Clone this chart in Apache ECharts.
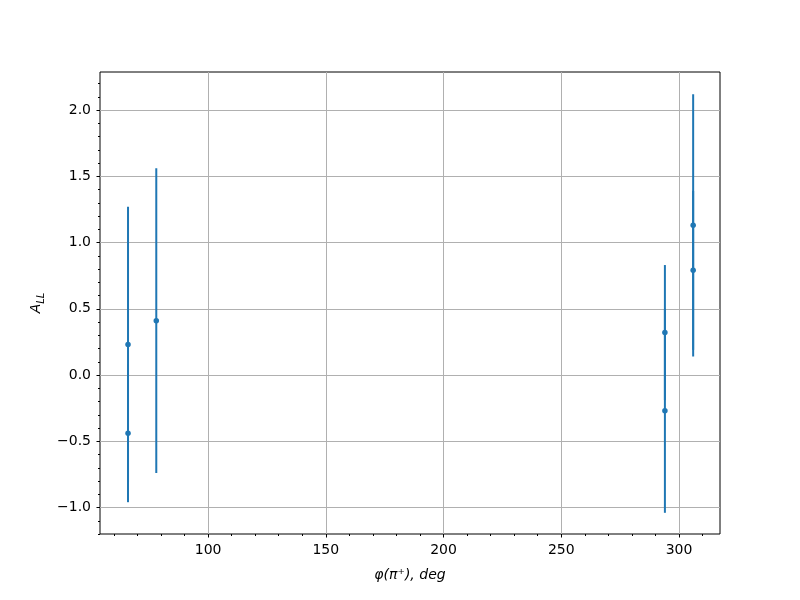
<!DOCTYPE html>
<html>
<head>
<meta charset="utf-8">
<script src="https://cdn.jsdelivr.net/npm/echarts@6/dist/echarts.min.js"></script>
<style>html,body{margin:0;padding:0;background:#fff}#c{width:800px;height:600px}</style>
</head>
<body>
<div id="c"></div>
<script>
const xValues = [66, 66, 78, 294, 294, 306, 306];
const yValues = [0.23, -0.44, 0.41, 0.32, -0.27, 1.13, 0.79];
const yErrors = [1.04, 0.52, 1.15, 0.51, 0.77, 0.99, 0.60];
const xMajorTicks = [100, 150, 200, 250, 300];
const xMinorTicks = [60, 70, 80, 90, 110, 120, 130, 140, 160, 170, 180, 190, 210, 220, 230, 240, 260, 270, 280, 290, 310];
const yMajorTicks = [-1.0, -0.5, 0.0, 0.5, 1.0, 1.5, 2.0];
const yMinorTicks = [-1.2, -1.1, -0.9, -0.8, -0.7, -0.6, -0.4, -0.3, -0.2, -0.1, 0.1, 0.2, 0.3, 0.4, 0.6, 0.7, 0.8, 0.9, 1.1, 1.2, 1.3, 1.4, 1.6, 1.7, 1.8, 1.9, 2.1, 2.2];
const xRange = [54.1, 317.4];
const yRange = [-1.2, 2.287];

const C = '#1f77b4';
const FONT = 'DejaVu Sans';
const fmtY = v => v.toFixed(1).replace('-', '\u2212');

const errData = xValues.map((x, i) => [x, yValues[i] - yErrors[i], yValues[i] + yErrors[i]]);
const ptData = xValues.map((x, i) => [x, yValues[i]]);

const chart = echarts.init(document.getElementById('c'), null, {renderer: 'canvas'});
chart.setOption({
  animation: false,
  backgroundColor: '#fff',
  textStyle: {fontFamily: FONT},
  grid: {left: 100, right: 80, top: 72, bottom: 66, show: true, borderColor: '#000', borderWidth: 1, backgroundColor: 'transparent'},
  xAxis: [{
    type: 'value', min: xRange[0], max: xRange[1], position: 'bottom',
    axisLine: {show: false, onZero: false},
    axisTick: {show: true, customValues: xMajorTicks, length: 3.5, lineStyle: {color: '#000', width: 1}},
    axisLabel: {customValues: xMajorTicks, color: '#000', fontSize: 14, fontFamily: FONT, margin: 9},
    splitLine: {show: true, lineStyle: {color: '#b0b0b0', width: 1}},
    name: '\u03c6(\u03c0\u207a), deg', nameLocation: 'middle', nameGap: 34,
    nameTextStyle: {color: '#000', fontSize: 14, fontStyle: 'italic', fontFamily: FONT}
  }, {
    type: 'value', min: xRange[0], max: xRange[1], position: 'bottom',
    axisLine: {show: false, onZero: false},
    axisTick: {show: true, customValues: xMinorTicks, length: 2, lineStyle: {color: '#000', width: 1}},
    axisLabel: {show: false},
    splitLine: {show: false}
  }],
  yAxis: [{
    type: 'value', min: yRange[0], max: yRange[1], position: 'left',
    axisLine: {show: false, onZero: false},
    axisTick: {show: true, customValues: yMajorTicks, length: 3.5, lineStyle: {color: '#000', width: 1}},
    axisLabel: {customValues: yMajorTicks, color: '#000', fontSize: 14, fontFamily: FONT, margin: 9, formatter: fmtY},
    splitLine: {show: true, lineStyle: {color: '#b0b0b0', width: 1}},
    name: '{a|A}{s|LL}', nameLocation: 'middle', nameGap: 46, nameRotate: 90,
    nameTextStyle: {color: '#000', fontFamily: FONT, rich: {
      a: {fontSize: 14, fontStyle: 'italic', color: '#000', fontFamily: FONT, verticalAlign: 'bottom', lineHeight: 16},
      s: {fontSize: 10, fontStyle: 'italic', color: '#000', fontFamily: FONT, verticalAlign: 'bottom', lineHeight: 12, padding: [0, 0, -3, 0]}
    }}
  }, {
    type: 'value', min: yRange[0], max: yRange[1], position: 'left',
    axisLine: {show: false, onZero: false},
    axisTick: {show: true, customValues: yMinorTicks, length: 2, lineStyle: {color: '#000', width: 1}},
    axisLabel: {show: false},
    splitLine: {show: false}
  }],
  series: [{
    type: 'custom', xAxisIndex: 0, yAxisIndex: 0, data: errData, clip: true, z: 3,
    renderItem: function (params, api) {
      const p1 = api.coord([api.value(0), api.value(1)]);
      const p2 = api.coord([api.value(0), api.value(2)]);
      return {type: 'line', shape: {x1: p1[0], y1: p1[1], x2: p2[0], y2: p2[1]}, style: {stroke: C, lineWidth: 2}};
    }
  }, {
    type: 'scatter', xAxisIndex: 0, yAxisIndex: 0, data: ptData, symbol: 'circle', symbolSize: 5.5, z: 4,
    itemStyle: {color: C, opacity: 1}
  }]
});
</script>
</body>
</html>
